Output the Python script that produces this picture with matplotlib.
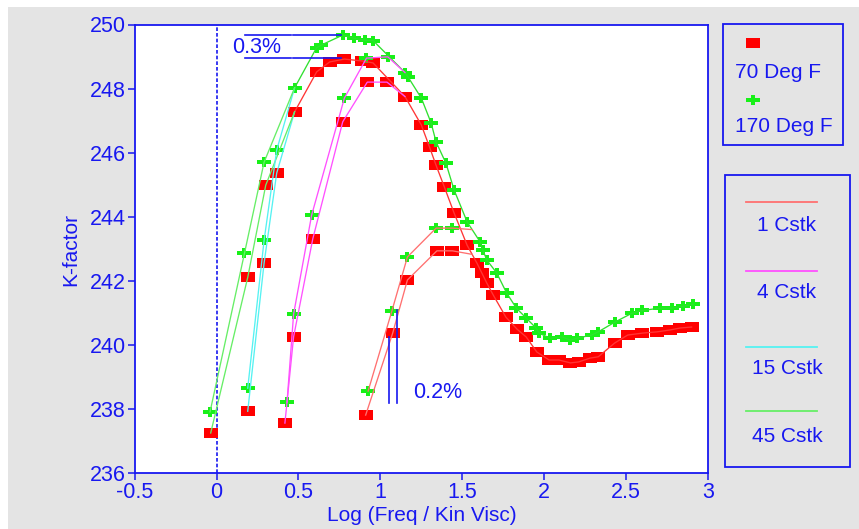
import matplotlib
matplotlib.use('Agg')
import matplotlib.pyplot as plt
from matplotlib.path import Path
from matplotlib.lines import Line2D
from matplotlib.patches import Rectangle
import numpy as np

plt.rcParams['font.family'] = ['Liberation Sans', 'DejaVu Sans']

# ---------------- data ----------------
x_ticks = [-0.5, 0, 0.5, 1, 1.5, 2, 2.5, 3]
x_tick_labels = ['-0.5', '0', '0.5', '1', '1.5', '2', '2.5', '3']
y_ticks = [236, 238, 240, 242, 244, 246, 248, 250]
y_tick_labels = ['236', '238', '240', '242', '244', '246', '248', '250']

temp_labels = ['70 Deg F', '170 Deg F']
visc_labels = ['1 Cstk', '4 Cstk', '15 Cstk', '45 Cstk']

# main composite curves
main_x_70 = [0.476, 0.611, 0.69, 0.78, 0.89, 0.955, 1.15, 1.25, 1.30, 1.34, 1.39, 1.45,
             1.53, 1.59, 1.62, 1.65, 1.69, 1.766, 1.835, 1.89, 1.955, 2.03, 2.09, 2.16,
             2.21, 2.28, 2.33, 2.43, 2.51, 2.60, 2.69, 2.77, 2.83, 2.90]
main_y_70 = [247.27, 248.52, 248.83, 248.92, 248.86, 248.8, 247.75, 246.86, 246.17, 245.6,
             244.93, 244.11, 243.1, 242.54, 242.23, 241.92, 241.54, 240.86, 240.48, 240.24,
             239.77, 239.52, 239.52, 239.43, 239.46, 239.58, 239.62, 240.05, 240.3, 240.36,
             240.4, 240.46, 240.52, 240.55]
main_x_170 = [0.476, 0.61, 0.64, 0.77, 0.84, 0.905, 0.955, 1.15, 1.17, 1.25, 1.31, 1.34,
              1.40, 1.45, 1.53, 1.61, 1.625, 1.65, 1.71, 1.77, 1.83, 1.89, 1.95, 1.97,
              2.035, 2.11, 2.16, 2.20, 2.29, 2.33, 2.43, 2.535, 2.60, 2.71, 2.78, 2.85, 2.91]
main_y_170 = [248.02, 249.27, 249.36, 249.67, 249.57, 249.51, 249.5, 248.5, 248.35, 247.7,
              246.92, 246.33, 245.67, 244.83, 243.83, 243.2, 242.96, 242.64, 242.24, 241.62,
              241.14, 240.83, 240.52, 240.36, 240.2, 240.24, 240.14, 240.2, 240.3, 240.4,
              240.7, 240.98, 241.07, 241.14, 241.14, 241.2, 241.26]

# viscosity branches (70 Deg F / 170 Deg F)
b1_x_70 = [0.91, 1.075, 1.165, 1.345, 1.44]
b1_y_70 = [237.8, 240.36, 242.02, 242.93, 242.93]
b1_x_170 = [0.925, 1.07, 1.165, 1.34, 1.44]
b1_y_170 = [238.55, 241.05, 242.74, 243.64, 243.64]

b4_x_70 = [0.417, 0.47, 0.587, 0.77, 0.92, 1.04]
b4_y_70 = [237.55, 240.24, 243.3, 246.96, 248.2, 248.2]
b4_x_170 = [0.43, 0.47, 0.58, 0.78, 0.915, 1.045]
b4_y_170 = [238.2, 240.95, 244.04, 247.7, 248.95, 248.99]

b15_x_70 = [0.19, 0.29, 0.367]
b15_y_70 = [237.92, 242.55, 245.36]
b15_x_170 = [0.19, 0.29, 0.367]
b15_y_170 = [238.64, 243.26, 246.08]

b45_x_70 = [-0.036, 0.19, 0.30]
b45_y_70 = [237.24, 242.1, 244.98]
b45_x_170 = [-0.04, 0.17, 0.29]
b45_y_170 = [237.9, 242.85, 245.7]

# where each branch line merges into the main curve
join_1 = 1.56
join_4 = 1.15
join_15 = 0.476
join_45 = 0.476

# annotations
ann03_y = [249.67, 248.95]
ann03_x = [0.172, 0.457, 0.467, 0.762]
ann02_x = [1.053, 1.10]
ann02_top = [240.25, 241.08]
ann02_bottom = 238.19

# ---------------- style ----------------
W, H = 859, 529
BLUE = '#1818f0'
GREY = '#e4e4e4'
RED = '#ff0000'
GREEN = '#18f018'
main_colors = ['#ff3535', '#30e030']
visc_colors = ['#ff7070', '#ff50ff', '#55f2f2', '#66ee66']

sq = Path([(-1, -0.7), (1, -0.7), (1, 0.7), (-1, 0.7), (-1, -0.7)],
          [Path.MOVETO, Path.LINETO, Path.LINETO, Path.LINETO, Path.CLOSEPOLY])
h, w = 0.26, 0.32
cross_verts = [(-1, -h), (-w, -h), (-w, -0.72), (w, -0.72), (w, -h), (1, -h), (1, h),
               (w, h), (w, 0.72), (-w, 0.72), (-w, h), (-1, h), (-1, -h)]
cross = Path(cross_verts, [Path.MOVETO] + [Path.LINETO] * 11 + [Path.CLOSEPOLY])
markers = [sq, cross]
mcolors = [RED, GREEN]
MS = 10


def px(x, y):
    return x / W, 1 - y / H


fig = plt.figure(figsize=(W / 100, H / 100), dpi=100)
fig.patch.set_facecolor('white')
fig.add_artist(Rectangle((8 / W, 0), 1, (H - 7) / H, transform=fig.transFigure,
                         facecolor=GREY, edgecolor='none', zorder=-10))

ax = fig.add_axes([134.7 / W, 1 - 472.7 / H, (708 - 134.7) / W, (472.7 - 24.5) / H])
ax.set_facecolor('white')
ax.set_xlim(-0.5, 3)
ax.set_ylim(236, 250)

mains = [(main_x_70, main_y_70), (main_x_170, main_y_170)]
branches = [
    [(b1_x_70, b1_y_70), (b1_x_170, b1_y_170)],
    [(b4_x_70, b4_y_70), (b4_x_170, b4_y_170)],
    [(b15_x_70, b15_y_70), (b15_x_170, b15_y_170)],
    [(b45_x_70, b45_y_70), (b45_x_170, b45_y_170)],
]
joins = [join_1, join_4, join_15, join_45]

# markers
for t in range(2):
    mx, my = mains[t]
    ax.plot(mx, my, linestyle='none', marker=markers[t], markersize=MS,
            markerfacecolor=mcolors[t], markeredgewidth=0, zorder=2)
    for v in range(4):
        bx, by = branches[v][t]
        ax.plot(bx, by, linestyle='none', marker=markers[t], markersize=MS,
                markerfacecolor=mcolors[t], markeredgewidth=0, zorder=2)

# lines
for t in range(2):
    mx, my = mains[t]
    ax.plot(mx, my, color=main_colors[t], lw=0.95, zorder=3)
    for v in range(4):
        bx, by = branches[v][t]
        jy = float(np.interp(joins[v], mx, my))
        if joins[v] > bx[-1]:
            lx, ly = list(bx) + [joins[v]], list(by) + [jy]
        else:
            lx, ly = list(bx), list(by)
        ax.plot(lx, ly, color=visc_colors[v], lw=0.95, zorder=3)

# dashed zero line
ax.axvline(0, color=BLUE, lw=1.2, dashes=(2.2, 1.2), zorder=1)

# 0.3 % annotation
for yv in ann03_y:
    ax.plot(ann03_x[0:2], [yv, yv], color=BLUE, lw=1.2, zorder=4)
    ax.plot(ann03_x[2:4], [yv, yv], color=BLUE, lw=1.2, zorder=4)
ax.text(0.097, 249.28, '0.3%', color=BLUE, fontsize=15.5, ha='left', va='center', zorder=5)

# 0.2 % annotation
for xv, yt in zip(ann02_x, ann02_top):
    ax.plot([xv, xv], [ann02_bottom, yt], color=BLUE, lw=1.2, zorder=4)
ax.text(1.2, 238.49, '0.2%', color=BLUE, fontsize=15.5, ha='left', va='center', zorder=5)

# axes styling
for s in ax.spines.values():
    s.set_color(BLUE)
    s.set_linewidth(1.3)
ax.set_xticks(x_ticks)
ax.set_xticklabels(x_tick_labels)
ax.set_yticks(y_ticks)
ax.set_yticklabels(y_tick_labels)
ax.tick_params(axis='both', colors=BLUE, labelcolor=BLUE, direction='out', length=5,
               width=1.1, labelsize=15.5)
ax.tick_params(axis='x', pad=1.8)
ax.tick_params(axis='y', pad=1.5)
ax.set_xlabel('Log (Freq / Kin Visc)', color=BLUE, fontsize=15)
ax.xaxis.set_label_coords(0.5, -0.0745)
ax.set_ylabel('K-factor', color=BLUE, fontsize=15)
ax.yaxis.set_label_coords(-0.0955, 0.497)

# legend box 1 (temperatures)
x0, y0 = px(723, 145)
x1, y1 = px(843, 24)
fig.add_artist(Rectangle((x0, y0), x1 - x0, y1 - y0, transform=fig.transFigure,
                         facecolor='none', edgecolor=BLUE, lw=1.3))
marker_pos = [(753, 43), (753, 100)]
text_pos = [(735, 72), (735, 127)]
for t in range(2):
    mxp, myp = px(*marker_pos[t])
    fig.add_artist(Line2D([mxp], [myp], transform=fig.transFigure, linestyle='none',
                          marker=markers[t], markersize=MS, markerfacecolor=mcolors[t],
                          markeredgewidth=0))
    tx, ty = px(*text_pos[t])
    fig.text(tx, ty, temp_labels[t], color=BLUE, fontsize=15, ha='left', va='center')

# legend box 2 (viscosities)
x0, y0 = px(725, 467)
x1, y1 = px(850, 175)
fig.add_artist(Rectangle((x0, y0), x1 - x0, y1 - y0, transform=fig.transFigure,
                         facecolor='none', edgecolor=BLUE, lw=1.3))
line_y = [202, 271, 347, 411]
label_y = [225, 292, 369, 437]
for v in range(4):
    lx0, ly = px(746, line_y[v])
    lx1, _ = px(817, line_y[v])
    fig.add_artist(Line2D([lx0, lx1], [ly, ly], transform=fig.transFigure,
                          color=visc_colors[v], lw=1.3))
    tx, ty = px(787, label_y[v])
    fig.text(tx, ty, visc_labels[v], color=BLUE, fontsize=15, ha='center', va='center')

fig.savefig('out.png', dpi=100)
